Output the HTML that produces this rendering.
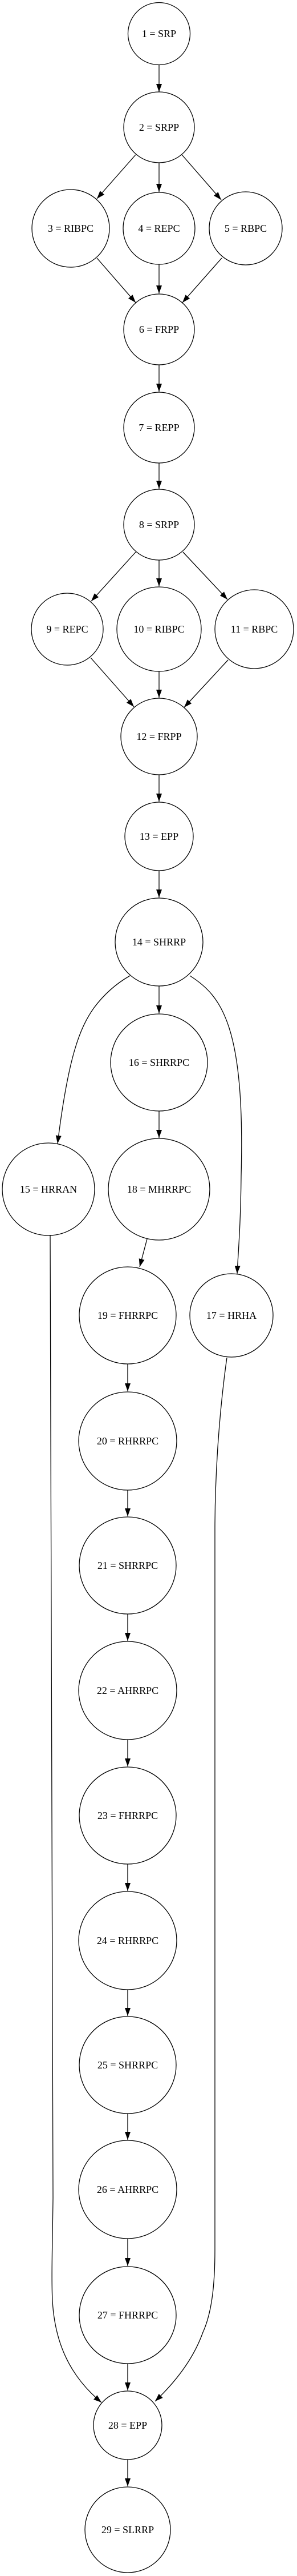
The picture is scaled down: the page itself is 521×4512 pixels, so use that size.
<!DOCTYPE html>
<html><head><meta charset="utf-8"><style>
html,body{margin:0;padding:0;background:#fff;}
svg{display:block;}
text{font-family:"Liberation Serif",serif;font-size:18px;fill:#000;text-anchor:middle;}
</style></head><body>
<svg width="521" height="4512" viewBox="0 0 521 4512" xmlns="http://www.w3.org/2000/svg">
<defs>
<marker id="a" markerUnits="userSpaceOnUse" markerWidth="14" markerHeight="10" refX="14" refY="5" orient="auto">
<path d="M0,0 L14,5 L0,10 z" fill="#000"/>
</marker>
</defs>
<g fill="none" stroke="#000" stroke-width="1.3">
<circle cx="279" cy="59" r="54.5"/>
<circle cx="279" cy="223" r="62"/>
<circle cx="124" cy="400" r="68"/>
<circle cx="279" cy="400" r="63"/>
<circle cx="431" cy="400" r="64"/>
<circle cx="279" cy="577" r="62"/>
<circle cx="279" cy="749" r="62"/>
<circle cx="279" cy="919" r="62"/>
<circle cx="118" cy="1102" r="63"/>
<circle cx="279" cy="1102" r="74"/>
<circle cx="446" cy="1102" r="69"/>
<circle cx="279" cy="1290" r="67"/>
<circle cx="279" cy="1465" r="60"/>
<circle cx="279" cy="1650" r="77"/>
<circle cx="279" cy="1861" r="85"/>
<circle cx="279" cy="2083" r="89"/>
<circle cx="85" cy="2083" r="81"/>
<circle cx="224" cy="2304" r="85"/>
<circle cx="406" cy="2304" r="73"/>
<circle cx="224" cy="2524" r="86"/>
<circle cx="224" cy="2742" r="85"/>
<circle cx="224" cy="2961" r="86"/>
<circle cx="224" cy="3180" r="85"/>
<circle cx="224" cy="3399" r="86"/>
<circle cx="224" cy="3617" r="85"/>
<circle cx="224" cy="3835" r="86"/>
<circle cx="224" cy="4055" r="85"/>
<circle cx="224" cy="4248" r="60"/>
<circle cx="224" cy="4431" r="75"/>
</g>
<g fill="none" stroke="#000" stroke-width="1.3" marker-end="url(#a)">
<path d="M279,114 L279,161"/>
<path d="M238,271 L170,348"/>
<path d="M279,285 L279,336"/>
<path d="M319,271 L388,350"/>
<path d="M170,452 L238,530"/>
<path d="M279,463 L279,514"/>
<path d="M389,452 L320,530"/>
<path d="M279,639 L279,686"/>
<path d="M279,811 L279,856"/>
<path d="M238,967 L160,1053"/>
<path d="M279,981 L279,1027"/>
<path d="M321,967 L399,1050"/>
<path d="M159,1152 L235,1238"/>
<path d="M279,1176 L279,1222"/>
<path d="M400,1156 L323,1239"/>
<path d="M279,1357 L279,1404"/>
<path d="M279,1525 L279,1572"/>
<path d="M228,1709 C200,1725 180,1745 165,1765 C140,1800 120,1850 101,2003"/>
<path d="M279,1727 L279,1775"/>
<path d="M333,1709 C390,1745 430,1800 423,2060 C422,2150 418,2190 416,2231"/>
<path d="M279,1946 L279,1993"/>
<path d="M258,2170 L245,2219"/>
<path d="M224,2389 L224,2437"/>
<path d="M224,2610 L224,2656"/>
<path d="M224,2827 L224,2874"/>
<path d="M224,3047 L224,3094"/>
<path d="M224,3265 L224,3312"/>
<path d="M224,3485 L224,3531"/>
<path d="M224,3702 L224,3748"/>
<path d="M224,3921 L224,3969"/>
<path d="M224,4140 L224,4187"/>
<path d="M224,4308 L224,4355"/>
<path d="M88,2163 C92,2400 94,2800 93,3850 C92,3930 90,3990 92,4030 C96,4100 120,4160 178,4208"/>
<path d="M398,2378 C385,2470 377,2580 377,2680 L377,3940 C377,4000 372,4050 356,4085 C340,4130 310,4170 272,4206"/>
</g>
<g>
<text x="279" y="65">1 = SRP</text>
<text x="279" y="229">2 = SRPP</text>
<text x="124" y="406">3 = RIBPC</text>
<text x="279" y="406">4 = REPC</text>
<text x="431" y="406">5 = RBPC</text>
<text x="279" y="583">6 = FRPP</text>
<text x="279" y="755">7 = REPP</text>
<text x="279" y="925">8 = SRPP</text>
<text x="118" y="1108">9 = REPC</text>
<text x="279" y="1108">10 = RIBPC</text>
<text x="446" y="1108">11 = RBPC</text>
<text x="279" y="1296">12 = FRPP</text>
<text x="279" y="1471">13 = EPP</text>
<text x="279" y="1656">14 = SHRRP</text>
<text x="279" y="1867">16 = SHRRPC</text>
<text x="279" y="2089">18 = MHRRPC</text>
<text x="85" y="2089">15 = HRRAN</text>
<text x="224" y="2310">19 = FHRRPC</text>
<text x="406" y="2310">17 = HRHA</text>
<text x="224" y="2530">20 = RHRRPC</text>
<text x="224" y="2748">21 = SHRRPC</text>
<text x="224" y="2967">22 = AHRRPC</text>
<text x="224" y="3186">23 = FHRRPC</text>
<text x="224" y="3405">24 = RHRRPC</text>
<text x="224" y="3623">25 = SHRRPC</text>
<text x="224" y="3841">26 = AHRRPC</text>
<text x="224" y="4061">27 = FHRRPC</text>
<text x="224" y="4254">28 = EPP</text>
<text x="224" y="4437">29 = SLRRP</text>
</g>
</svg>
</body></html>
